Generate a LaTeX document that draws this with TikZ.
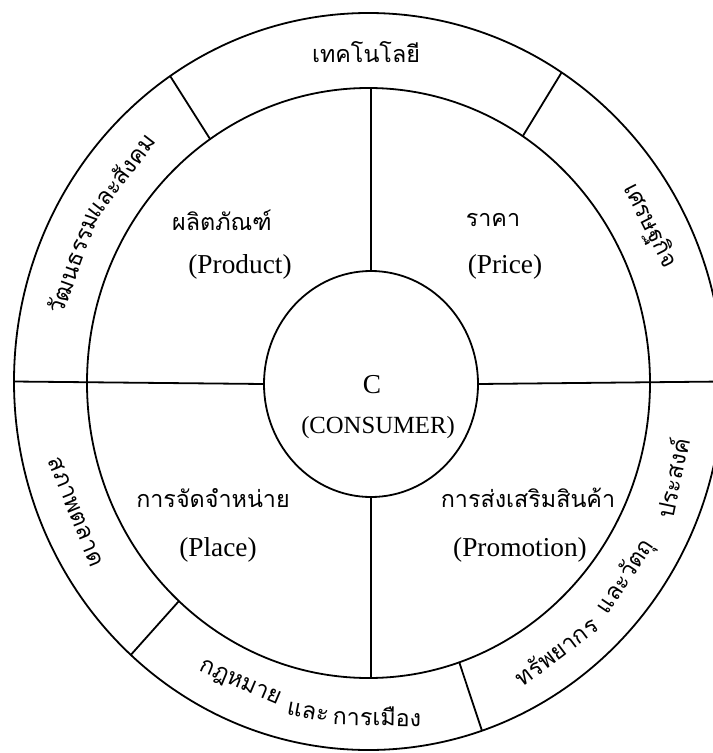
\documentclass[tikz,border=0pt]{standalone}
\usepackage{fontspec}
\setmainfont{Liberation Serif}
\newfontfamily\thaifont[Script=Thai]{Loma}
\usetikzlibrary{shapes.geometric}
\begin{document}
\begin{tikzpicture}[x=0.75pt,y=-0.75pt,
  ring/.style={draw, ellipse, line width=1.35pt, inner sep=0pt, outer sep=0pt},
  ln/.style={line width=1.35pt},
  th/.style={font=\thaifont\fontsize{17.5}{20}\selectfont, inner sep=0pt},
  en/.style={font=\fontsize{20.5}{24}\selectfont, inner sep=0pt}]
\useasboundingbox (0,0) rectangle (713,753);
\clip (0,0) rectangle (713,753);
% rings
\node[ring, minimum width=531.75pt, minimum height=552.75pt] (outer) at (368.5,381.5) {};
\node[ring, minimum width=422.25pt, minimum height=442.5pt] (inner) at (368.5,383) {};
\node[ring, minimum width=160.5pt, minimum height=169.5pt] (cons) at (371,384) {};
% spokes
\draw[ln] (cons.north |- inner.north) -- (cons.north);
\draw[ln] (cons.south) -- (cons.south |- inner.south);
\draw[ln] (outer.west) -- (cons.west);
\draw[ln] (cons.east) -- (outer.east);
% outer ring dividers
\draw[ln] (outer.123) -- (inner.123);
\draw[ln] (outer.58.4) -- (inner.58.4);
\draw[ln] (outer.229.6) -- (inner.229.6);
\draw[ln] (outer.288) -- (inner.288);
% centre
\node[en] (c) at (372,385) {C};
\node[en, font=\fontsize{18.5}{22}\selectfont] (consumer) at (378,428) {(CONSUMER)};
% four P
\node[th] (prodth) at (222,220) {ผลิตภัณฑ์};
\node[en] (prod) at (240,267) {(Product)};
\node[th] (priceth) at (493,220) {ราคา};
\node[en] (price) at (505,267) {(Price)};
\node[th] (placeth) at (213,498) {การจัดจำหน่าย};
\node[en] (place) at (218,550) {(Place)};
\node[th] (promoth) at (528,498) {การส่งเสริมสินค้า};
\node[en] (promo) at (520,550) {(Promotion)};
% environment
\node[th] (tech) at (366,52) {เทคโนโลยี};
\node[th, rotate=-63] (econ) at (650,226) {เศรษฐกิจ};
\node[th, rotate=70] (cult1) at (72,263) {วัฒนธรรม};
\node[th, rotate=52.5] (cult2) at (120,175) {และสังคม};
\node[th, rotate=-68] (market) at (76,512) {สภาพตลาด};
\node[th, rotate=-23] (law1) at (240,684) {กฎหมาย};
\node[th, rotate=-11] (law2) at (308,712) {และ};
\node[th, rotate=-1] (law3) at (377,716) {การเมือง};
\node[th, rotate=37] (res1) at (556,651) {ทรัพยากร};
\node[th, rotate=56] (res2) at (626,577) {และวัตถุ};
\node[th, rotate=78] (res3) at (672,478) {ประสงค์};
\end{tikzpicture}
\end{document}
